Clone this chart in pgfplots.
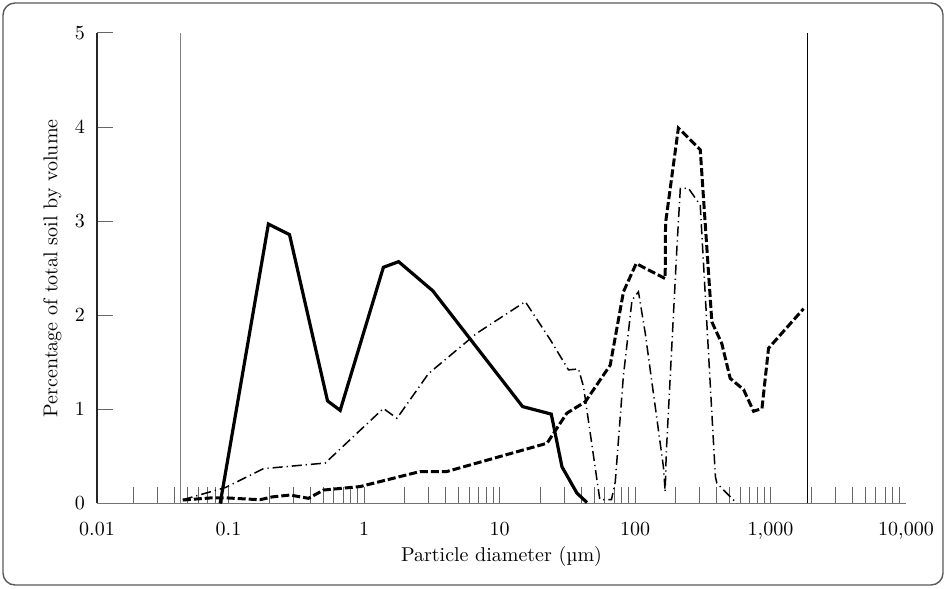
\documentclass[border=0pt]{standalone}
\usepackage{pgfplots}
\pgfplotsset{compat=1.18}

\begin{document}
\fontsize{10}{12}\selectfont
\begin{tikzpicture}
\useasboundingbox (0,0) rectangle (473pt,294pt);
\draw[black!65, line width=0.7pt, rounded corners=6pt] (1.5pt,1.5pt) rectangle (471.5pt,292.5pt);
\begin{axis}[
    at={(48.5pt,42.25pt)}, anchor=south west,
    scale only axis,
    width=404.5pt, height=235.25pt,
    xmode=log,
    xmin=0.0107, xmax=10000,
    ymin=0, ymax=5,
    axis lines=left,
    axis line style={-},
    x axis line style={black!55, line width=0.8pt},
    y axis line style={black!85, line width=0.6pt},
    tick align=inside,
    major tick length=8pt,
    minor tick length=8pt,
    tick style={black!60, line width=0.5pt},
    xtick={0.1,1,10,100,1000},
    xticklabels={0.1,1,10,100,1{,}000},
    minor xtick={0.02,0.03,0.04,0.05,0.06,0.07,0.08,0.09,
                 0.2,0.3,0.4,0.5,0.6,0.7,0.8,0.9,
                 2,3,4,5,6,7,8,9,
                 20,30,40,50,60,70,80,90,
                 200,300,400,500,600,700,800,900,
                 2000,3000,4000,5000,6000,7000,8000,9000},
    extra x ticks={10000},
    extra x tick labels={10{,}000},
    extra x tick style={major tick length=0pt},
    xticklabel style={anchor=base, yshift=-16pt},
    ytick={0,1,2,3,4,5},
    yticklabel style={anchor=center, xshift=-8.5pt},
    xlabel={Particle diameter (µm)},
    ylabel={Percentage of total soil by volume},
    every axis x label/.style={at={(axis description cs:0.5,-0.1137)}, anchor=center},
    every axis y label/.style={at={(axis description cs:-0.055,0.5)}, rotate=90, anchor=center},
]
% reference lines
\addplot[black!50, line width=0.5pt] coordinates {(0.044,0) (0.044,5)};
\addplot[black, line width=0.5pt] coordinates {(1875,0) (1875,5)};

% solid
\addplot[black, line width=1.6pt, line join=miter] coordinates {
    (0.0868,0) (0.197,2.97) (0.282,2.857) (0.538,1.09) (0.667,0.99)
    (1.39,2.51) (1.80,2.57) (3.22,2.26) (14.8,1.03) (24.1,0.95)
    (28.9,0.39) (37.3,0.11) (44.2,0.01)
};

% dash-dot
\addplot[black, line width=0.75pt, dash pattern=on 5pt off 2pt on 0.6pt off 2pt] coordinates {
    (0.046,0.04) (0.095,0.17) (0.181,0.37) (0.517,0.43) (1.39,1.01)
    (1.75,0.905) (2.99,1.38) (6.81,1.81) (15.5,2.145) (23.7,1.74)
    (32.3,1.42) (38.3,1.43) (41.7,1.24) (55,0.04) (67,0.04)
    (71.5,0.23) (82,1.35) (95,2.16) (106,2.25) (119,1.81)
    (162,0.39) (167,0.125) (170,0.53) (204,2.73) (216,3.35)
    (248,3.35) (303,3.17) (392,0.285) (402,0.215) (565,0)
};

% dashed
\addplot[black, line width=1.5pt, dash pattern=on 4pt off 1.5pt] coordinates {
    (0.046,0.037) (0.075,0.06) (0.095,0.06) (0.171,0.04) (0.21,0.07)
    (0.285,0.09) (0.389,0.055) (0.503,0.143) (0.937,0.18) (2.60,0.34)
    (4.09,0.34) (22.4,0.64) (31.4,0.96) (42.9,1.08) (65.6,1.47)
    (82.2,2.25) (102,2.55) (167,2.39) (168,2.98) (209,3.99)
    (303,3.76) (369,1.93) (437,1.70) (504,1.33) (633,1.21)
    (750,0.98) (865,1.01) (967,1.65) (1754,2.07)
};
\end{axis}
\node[anchor=base] at (48.5pt,26.25pt) {0.01};
\end{tikzpicture}
\end{document}
